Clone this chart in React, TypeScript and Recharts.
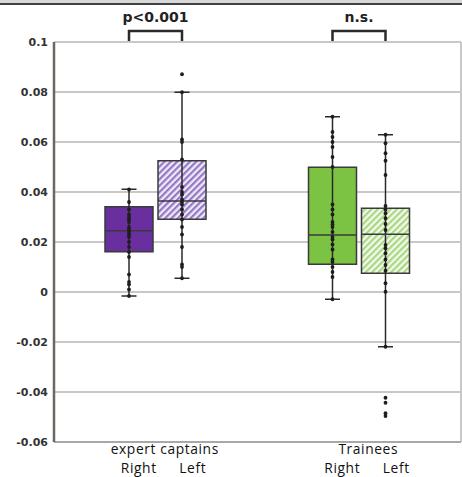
import React from 'react';
import { ComposedChart, Bar, XAxis, YAxis, CartesianGrid } from 'recharts';

const categories = ['expert captains', 'Trainees'];
const sideLabels = ['Right', 'Left'];
const significance = ['p<0.001', 'n.s.'];
const yTicks = [-0.06, -0.04, -0.02, 0, 0.02, 0.04, 0.06, 0.08, 0.1];

// [min, q1, median, q3, max] per group
const rightStats = [
    [-0.0016, 0.0161, 0.0245, 0.0341, 0.0411],
    [-0.0029, 0.0111, 0.0228, 0.0499, 0.0701],
];
const leftStats = [
    [0.0055, 0.0291, 0.0364, 0.0525, 0.0799],
    [-0.0219, 0.0075, 0.0231, 0.0335, 0.0629],
];

// individual observations
const rightPoints = [
    [0.041, 0.036, 0.033, 0.031, 0.03, 0.029, 0.028, 0.026, 0.025, 0.024, 0.023, 0.022, 0.02, 0.018, 0.016, 0.014, 0.007, 0.004, 0.003, 0.001, -0.0016],
    [0.0701, 0.064, 0.062, 0.06, 0.058, 0.054, 0.05, 0.035, 0.033, 0.031, 0.028, 0.027, 0.026, 0.024, 0.022, 0.021, 0.019, 0.017, 0.013, 0.012, 0.01, 0.008, 0.006, -0.0029],
];
const leftPoints = [
    [0.0871, 0.0799, 0.061, 0.06, 0.053, 0.042, 0.04, 0.039, 0.037, 0.036, 0.035, 0.033, 0.031, 0.029, 0.026, 0.023, 0.018, 0.011, 0.01, 0.0055],
    [0.0629, 0.0595, 0.0555, 0.0525, 0.0468, 0.0344, 0.033, 0.0315, 0.0295, 0.0272, 0.0248, 0.0188, 0.0175, 0.0155, 0.013, 0.0108, 0.0085, 0.0035, 0.0001, -0.0219, -0.0423, -0.0443, -0.0485, -0.0496],
];

const data = categories.map((name, i) => ({
    name,
    right: [rightStats[i][1], rightStats[i][3]],
    left: [leftStats[i][1], leftStats[i][3]],
    rightStats: rightStats[i],
    leftStats: leftStats[i],
    rightPoints: rightPoints[i],
    leftPoints: leftPoints[i],
    sig: significance[i],
}));

const BAR_GAP = 5;
const INK = '#2a2a2a';

function drawBox(props: any, side: 'right' | 'left', fill: string) {
    const { x, y, width, height, payload } = props;
    const [mn, q1, med, q3, mx] = payload[side + 'Stats'];
    const pts: number[] = payload[side + 'Points'];
    const top = Math.min(y, y + height);
    const k = Math.abs(height) / (q3 - q1);
    const py = (v: number) => top + (q3 - v) * k;
    const cx = x + width / 2;
    const cap = 7.5;

    let bracket = null;
    if (side === 'left') {
        const other = cx - width - BAR_GAP;
        const yMax = py(yTicks[yTicks.length - 1]);
        bracket = (
            <g>
                <path
                    d={`M${other},${yMax - 1} L${other},${yMax - 11} L${cx},${yMax - 11} L${cx},${yMax - 1}`}
                    fill="none"
                    stroke={INK}
                    strokeWidth={2.5}
                />
                <text
                    x={(other + cx) / 2}
                    y={yMax - 20}
                    textAnchor="middle"
                    fontFamily="DejaVu Sans"
                    fontWeight="bold"
                    fontSize={14}
                    fill="#222"
                >
                    {payload.sig}
                </text>
            </g>
        );
    }

    return (
        <g>
            <rect x={x} y={top} width={width} height={Math.abs(height)} fill={fill} stroke="#3a3a3a" strokeWidth={1.5} />
            <line x1={cx} x2={cx} y1={py(mx)} y2={py(mn)} stroke={INK} strokeWidth={1.5} />
            <line x1={cx - cap} x2={cx + cap} y1={py(mx)} y2={py(mx)} stroke={INK} strokeWidth={1.5} />
            <line x1={cx - cap} x2={cx + cap} y1={py(mn)} y2={py(mn)} stroke={INK} strokeWidth={1.5} />
            <line x1={x} x2={x + width} y1={py(med)} y2={py(med)} stroke="#3a3a3a" strokeWidth={1.5} />
            {pts.map((v, i) => (
                <circle key={i} cx={cx} cy={py(v)} r={1.9} fill="#1e1e1e" />
            ))}
            {bracket}
        </g>
    );
}

function CategoryTick(props: any) {
    const { x, y, payload } = props;
    return (
        <g fontFamily="Open Sans" fontSize={13.8} letterSpacing={0.6} fill="#111">
            <text x={x + 9} y={y + 12} textAnchor="middle">{payload.value}</text>
            <text x={x - 17} y={y + 31} textAnchor="middle">{sideLabels[0]}</text>
            <text x={x + 37} y={y + 31} textAnchor="middle">{sideLabels[1]}</text>
        </g>
    );
}

export default function App() {
    return (
        <div style={{ position: 'absolute', left: 0, top: 0, width: 462, height: 477, background: '#fff' }}>
            <div style={{ position: 'absolute', left: 0, top: 0, width: 462, height: 3, background: '#d8d8d8', borderBottom: '2px solid #404040' }} />
            <ComposedChart
                width={462}
                height={477}
                data={data}
                margin={{ top: 42, right: 1, bottom: 0, left: 0 }}
                barGap={BAR_GAP}
                barSize={48}
            >
                <defs>
                    <pattern id="hatchPurple" patternUnits="userSpaceOnUse" width={4.5} height={4.5} patternTransform="rotate(45)">
                        <rect x={0} y={0} width={4.5} height={4.5} fill="#efe9f7" />
                        <rect x={0} y={0} width={2.2} height={4.5} fill="#9478c6" />
                    </pattern>
                    <pattern id="hatchGreen" patternUnits="userSpaceOnUse" width={4.5} height={4.5} patternTransform="rotate(45)">
                        <rect x={0} y={0} width={4.5} height={4.5} fill="#f3faec" />
                        <rect x={0} y={0} width={2.2} height={4.5} fill="#a9d884" />
                    </pattern>
                </defs>
                <CartesianGrid
                    stroke="#c8c8c8"
                    strokeWidth={2}
                    verticalCoordinatesGenerator={({ offset }: any) => [offset.left + offset.width]}
                />
                <XAxis
                    dataKey="name"
                    type="category"
                    interval={0}
                    height={35}
                    tickSize={0}
                    tickMargin={0}
                    tickLine={false}
                    axisLine={{ stroke: '#a8a8a8', strokeWidth: 2 }}
                    tick={<CategoryTick />}
                />
                <YAxis
                    type="number"
                    domain={[-0.06, 0.1]}
                    ticks={yTicks}
                    interval={0}
                    width={54}
                    tickSize={0}
                    tickMargin={6}
                    tickLine={false}
                    axisLine={{ stroke: '#6e6660', strokeWidth: 2.5 }}
                    tickFormatter={(v: number) => String(v)}
                    tick={{ fontFamily: 'DejaVu Sans', fontWeight: 'bold', fontSize: 11, fill: '#333' }}
                />
                <Bar
                    dataKey="right"
                    isAnimationActive={false}
                    shape={(p: any) => drawBox(p, 'right', p.payload.name === categories[0] ? '#6a2f9e' : '#7cc243')}
                />
                <Bar
                    dataKey="left"
                    isAnimationActive={false}
                    shape={(p: any) => drawBox(p, 'left', p.payload.name === categories[0] ? 'url(#hatchPurple)' : 'url(#hatchGreen)')}
                />
            </ComposedChart>
        </div>
    );
}
